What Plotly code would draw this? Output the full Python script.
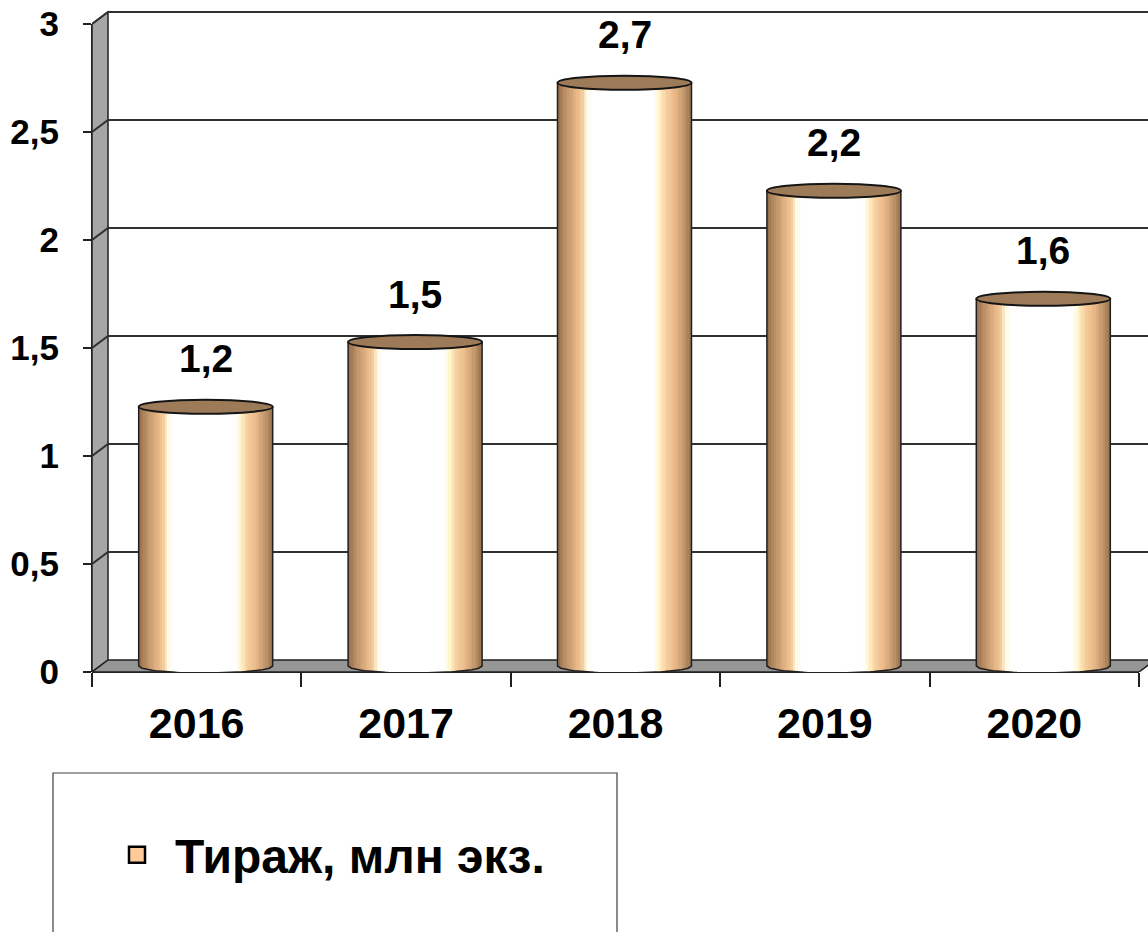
import numpy as np
import plotly.graph_objects as go

# ---------------- data ----------------
years = ["2016", "2017", "2018", "2019", "2020"]
values = [1.2, 1.5, 2.7, 2.2, 1.7]
value_labels = ["1,2", "1,5", "2,7", "2,2", "1,6"]
y_ticks = [0, 0.5, 1, 1.5, 2, 2.5, 3]
y_tick_labels = ["0", "0,5", "1", "1,5", "2", "2,5", "3"]
series_name = "Тираж, млн экз."

# ---------------- geometry (pixel based, converted to axis units) ----------------
PX_X = 209.4          # pixels per category
PX_Y = 216.0          # pixels per value unit
DEPTH_X = 16 / PX_X   # back wall offset
DEPTH_Y = 12 / PX_Y
MID_X = 9 / PX_X      # cylinders sit in the middle of the depth
MID_Y = 6 / PX_Y
R_X = 67 / PX_X       # cylinder radius (horizontal)
R_Y = 7 / PX_Y        # ellipse half-height
N_SLICES = 56

FONT = "Liberation Sans, Arial, sans-serif"

# cylinder shading stops (t from -1 left edge to +1 right edge)
stops = [
    (-1.00, (146, 108, 74)),
    (-0.86, (192, 148, 106)),
    (-0.70, (232, 184, 136)),
    (-0.62, (244, 206, 160)),
    (-0.56, (255, 250, 232)),
    (-0.46, (255, 255, 255)),
    (0.44, (255, 255, 255)),
    (0.52, (255, 246, 204)),
    (0.62, (248, 208, 160)),
    (0.76, (234, 184, 136)),
    (0.90, (190, 148, 106)),
    (1.00, (150, 112, 78)),
]


def shade(t):
    ts = [s[0] for s in stops]
    out = []
    for k in range(3):
        out.append(int(round(np.interp(t, ts, [s[1][k] for s in stops]))))
    return "rgb(%d,%d,%d)" % tuple(out)


n = len(years)
cat_pos = np.arange(n)
centers = cat_pos + MID_X
tops = np.array(values) + MID_Y

# slices of the cylinders
ts = np.linspace(-1 + 1 / N_SLICES, 1 - 1 / N_SLICES, N_SLICES)
bx, by, bbase, bw, bc = [], [], [], [], []
for c, top in zip(centers, tops):
    for t in ts:
        base = MID_Y - R_Y * np.sqrt(max(0.0, 1 - t * t))
        bx.append(c + t * R_X)
        bbase.append(base)
        by.append(top - base)
        bw.append(2 * R_X / N_SLICES * 1.25)
        bc.append(shade(t))

fig = go.Figure()
fig.add_trace(go.Bar(
    x=bx, y=by, base=bbase, width=bw,
    marker=dict(color=bc, line=dict(width=0)),
    showlegend=False, hoverinfo="skip",
))

# outlines of the cylinders (sides + bottom arc)
ox, oy = [], []
arc = np.linspace(-1, 1, 41)
for c, top in zip(centers, tops):
    ox += [c - R_X]
    oy += [top]
    ox += list(c + arc * R_X)
    oy += list(MID_Y - R_Y * np.sqrt(np.clip(1 - arc ** 2, 0, None)))
    ox += [c + R_X]
    oy += [top]
    ox.append(None)
    oy.append(None)
fig.add_trace(go.Scatter(
    x=ox, y=oy, mode="lines", line=dict(color="#202020", width=1.5),
    showlegend=False, hoverinfo="skip",
))

# legend entry
fig.add_trace(go.Scatter(
    x=[None], y=[None], mode="markers", name=series_name,
    marker=dict(symbol="square", size=16, color="#ffcc99",
                line=dict(color="black", width=2.5)),
))

shapes = []
x_f = -0.5
x_b = -0.5 + DEPTH_X
x_rf = n - 0.5
x_rb = n - 0.5 + DEPTH_X
ymax = max(y_ticks)

# left wall
shapes.append(dict(
    type="path", xref="x", yref="y", layer="below",
    path=f"M{x_f},0 L{x_f},{ymax} L{x_b},{ymax + DEPTH_Y} L{x_b},{DEPTH_Y} Z",
    fillcolor="#a6a6a6", line=dict(color="#202020", width=1.5),
))
# floor
shapes.append(dict(
    type="path", xref="x", yref="y", layer="below",
    path=f"M{x_f},0 L{x_b},{DEPTH_Y} L{x_rb},{DEPTH_Y} L{x_rf},0 Z",
    fillcolor="#969696", line=dict(color="#202020", width=1.5),
))
# gridlines on back wall with diagonal on the side wall
for v in y_ticks[1:]:
    shapes.append(dict(
        type="path", xref="x", yref="y", layer="below",
        path=f"M{x_f},{v} L{x_b},{v + DEPTH_Y} L{x_rb + 1},{v + DEPTH_Y}",
        line=dict(color="#303030", width=2),
    ))
# front edges (at plot boundary, referenced to paper on one side)
shapes.append(dict(type="line", xref="x", yref="paper", x0=x_f, x1=x_rf, y0=0, y1=0,
                   line=dict(color="#202020", width=2), layer="below"))
shapes.append(dict(type="line", xref="paper", yref="y", x0=0, x1=0, y0=0, y1=ymax,
                   line=dict(color="#202020", width=2), layer="below"))

# cylinder top caps
for c, top in zip(centers, tops):
    shapes.append(dict(
        type="circle", xref="x", yref="y", layer="above",
        x0=c - R_X, x1=c + R_X, y0=top - R_Y, y1=top + R_Y,
        fillcolor="#9e7b58", line=dict(color="#151515", width=2),
    ))

# legend box
W_PLOT = 1056.0
H_PLOT = 672.0
shapes.append(dict(
    type="rect", xref="paper", yref="paper",
    x0=(53 - 92) / W_PLOT, x1=(617 - 92) / W_PLOT,
    y0=(672 - 773) / H_PLOT, y1=(672 - 960) / H_PLOT,
    line=dict(color="#404040", width=1.2), fillcolor="rgba(0,0,0,0)",
))

annotations = []
for c, top, lab in zip(centers, tops, value_labels):
    annotations.append(dict(
        x=c, y=top, xref="x", yref="y", text=lab, showarrow=False,
        yshift=48, yanchor="middle",
        font=dict(family=FONT, size=39, color="black", weight="bold"),
    ))

fig.update_layout(
    width=1148, height=932, autosize=False,
    margin=dict(l=92, r=0, t=0, b=260, pad=0),
    paper_bgcolor="white", plot_bgcolor="white",
    barmode="overlay", bargap=0,
    shapes=shapes, annotations=annotations,
    showlegend=True,
    legend=dict(
        x=(99 - 92) / W_PLOT, y=(672 - 855) / H_PLOT,
        xanchor="left", yanchor="middle",
        bgcolor="rgba(0,0,0,0)", borderwidth=0,
        itemwidth=66,
        font=dict(family=FONT, size=48, color="black", weight="bold"),
    ),
    xaxis=dict(
        range=[-0.5, -0.5 + W_PLOT / PX_X],
        tickvals=list(cat_pos), ticktext=years,
        ticks="", showgrid=False, zeroline=False, showline=False,
        tickfont=dict(family=FONT, size=43, color="black", weight="bold"),
        ticklabelstandoff=22,
        minor=dict(tickvals=[i - 0.5 for i in range(n + 1)], ticks="outside",
                   ticklen=14, tickwidth=1.5, tickcolor="#202020", showgrid=False),
        fixedrange=True,
    ),
    yaxis=dict(
        range=[0, H_PLOT / PX_Y],
        tickvals=y_ticks, ticktext=y_tick_labels,
        ticks="outside", ticklen=8, tickwidth=1.5, tickcolor="#202020",
        showgrid=False, zeroline=False, showline=False,
        tickfont=dict(family=FONT, size=35, color="black", weight="bold"),
        ticklabelstandoff=17,
        fixedrange=True,
    ),
)

fig.write_html("out.html", post_script="document.body.style.margin='0';",
               config={"displayModeBar": False})
